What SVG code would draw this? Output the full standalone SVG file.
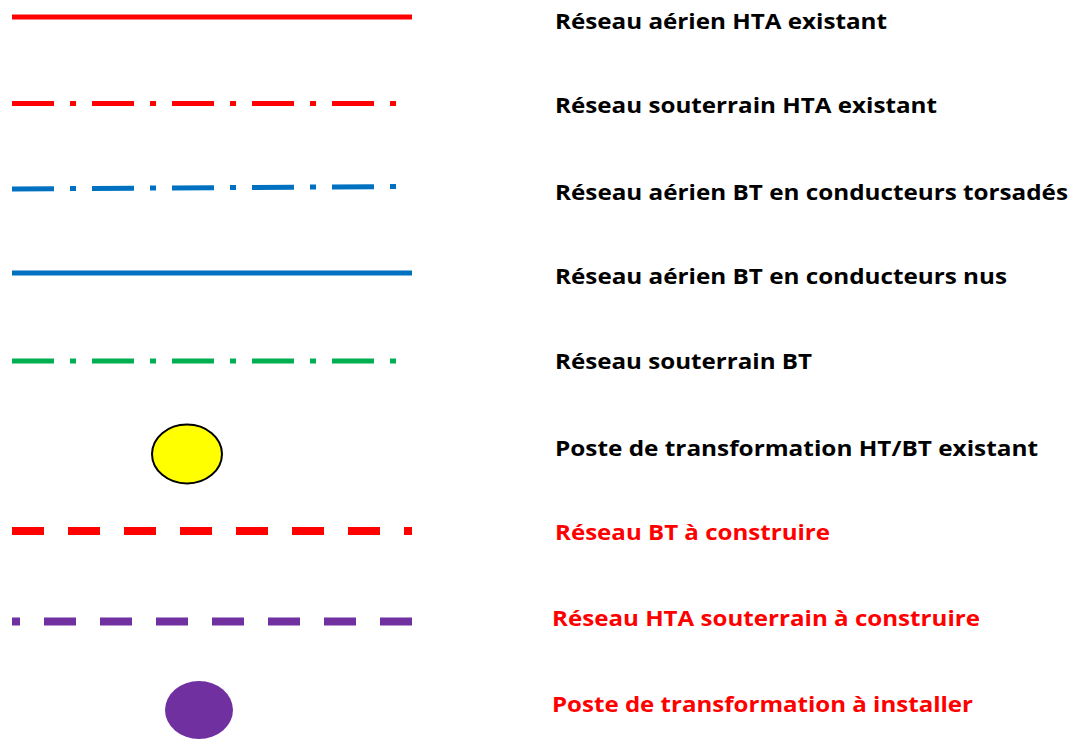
<svg xmlns="http://www.w3.org/2000/svg" width="1075" height="739" viewBox="0 0 1075 739">
<style>
.lbl{font-family:"Open Sans","Liberation Sans",sans-serif;font-weight:700;font-size:22px;fill:#000}
.new{fill:#FF0000}
.ln{fill:none;stroke-linecap:butt}
.dd{stroke-width:5;stroke-dasharray:42 16 6 16}
.dsh{stroke-width:8;stroke-dasharray:32 24}
</style>
<rect width="1075" height="739" fill="#fff"/>
<g id="item-hta-aerien">
<line class="ln" x1="12" y1="17" x2="412" y2="17" stroke="#FF0000" stroke-width="5"/>
<text class="lbl" x="555" y="29" textLength="332" lengthAdjust="spacingAndGlyphs">Réseau aérien HTA existant</text>
</g>
<g id="item-hta-souterrain">
<line class="ln dd" x1="12" y1="103.5" x2="396" y2="103.5" stroke="#FF0000"/>
<text class="lbl" x="555" y="113" textLength="382" lengthAdjust="spacingAndGlyphs">Réseau souterrain HTA existant</text>
</g>
<g id="item-bt-torsades">
<line class="ln dd" x1="12" y1="189" x2="396" y2="186.5" stroke="#0070C0"/>
<text class="lbl" x="555" y="200" textLength="513" lengthAdjust="spacingAndGlyphs">Réseau aérien BT en conducteurs torsadés</text>
</g>
<g id="item-bt-nus">
<line class="ln" x1="12" y1="273" x2="412" y2="273" stroke="#0070C0" stroke-width="5"/>
<text class="lbl" x="555" y="284" textLength="452" lengthAdjust="spacingAndGlyphs">Réseau aérien BT en conducteurs nus</text>
</g>
<g id="item-bt-souterrain">
<line class="ln dd" x1="12" y1="361" x2="396" y2="361" stroke="#00B050"/>
<text class="lbl" x="555" y="369" textLength="257" lengthAdjust="spacingAndGlyphs">Réseau souterrain BT</text>
</g>
<g id="item-poste-existant">
<ellipse cx="187" cy="454" rx="35" ry="29.5" fill="#FFFF00" stroke="#000" stroke-width="2"/>
<text class="lbl" x="555" y="456" textLength="483" lengthAdjust="spacingAndGlyphs">Poste de transformation HT/BT existant</text>
</g>
<g id="item-bt-construire">
<line class="ln dsh" x1="12" y1="531" x2="412" y2="531" stroke="#FF0000"/>
<text class="lbl new" x="555" y="540" textLength="275" lengthAdjust="spacingAndGlyphs">Réseau BT à construire</text>
</g>
<g id="item-hta-construire">
<line class="ln dsh" x1="12" y1="621.5" x2="412" y2="621.5" stroke="#7030A0" stroke-dashoffset="24"/>
<text class="lbl new" x="552" y="626" textLength="428" lengthAdjust="spacingAndGlyphs">Réseau HTA souterrain à construire</text>
</g>
<g id="item-poste-installer">
<ellipse cx="199" cy="710" rx="34" ry="29" fill="#7030A0"/>
<text class="lbl new" x="552" y="712" textLength="421" lengthAdjust="spacingAndGlyphs">Poste de transformation à installer</text>
</g>
</svg>
